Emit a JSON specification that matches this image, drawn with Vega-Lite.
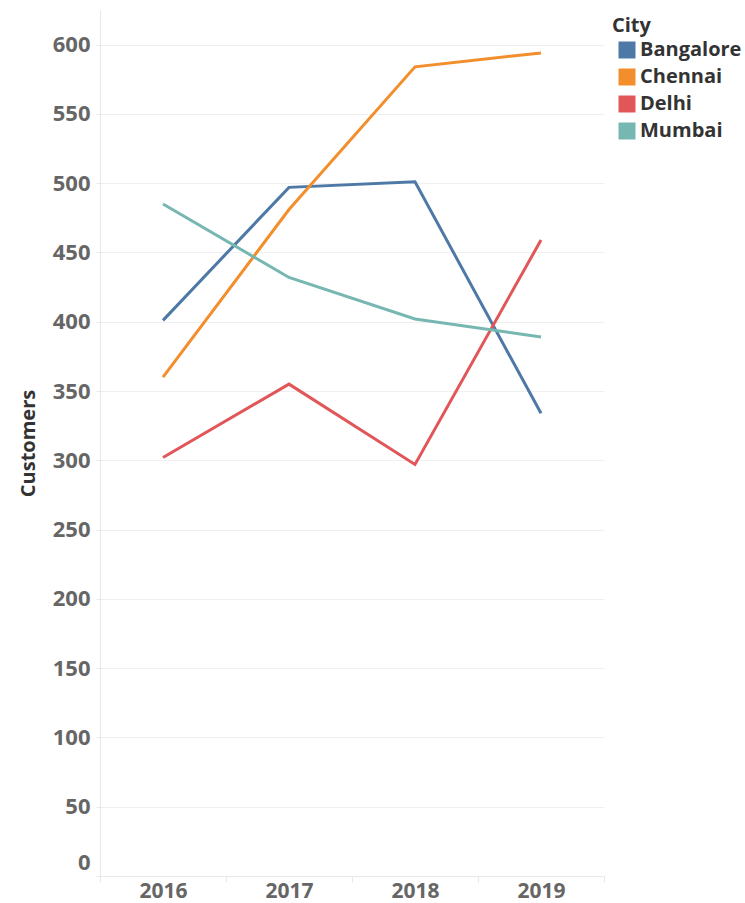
{
  "$schema": "https://vega.github.io/schema/vega-lite/v6.json",
  "autosize": {"type": "none"},
  "padding": {"left": 100, "top": 10, "right": 141, "bottom": 27},
  "width": 504,
  "height": 866,
  "background": "white",
  "config": {
    "font": "Open Sans",
    "view": {"stroke": null},
    "axis": {
      "labelFont": "Open Sans",
      "labelFontWeight": "bold",
      "labelColor": "#666666",
      "labelFontSize": 21,
      "titleFont": "Open Sans",
      "titleFontWeight": "bold",
      "titleColor": "#333333",
      "titleFontSize": 20,
      "gridColor": "#f0f0f0",
      "domainColor": "#e8e8e8",
      "tickColor": "#e8e8e8"
    }
  },
  "data": {
    "values": [
      {"Year": "2016", "City": "Bangalore", "Customers": 401},
      {"Year": "2017", "City": "Bangalore", "Customers": 497},
      {"Year": "2018", "City": "Bangalore", "Customers": 501},
      {"Year": "2019", "City": "Bangalore", "Customers": 334},
      {"Year": "2016", "City": "Chennai", "Customers": 360},
      {"Year": "2017", "City": "Chennai", "Customers": 481},
      {"Year": "2018", "City": "Chennai", "Customers": 584},
      {"Year": "2019", "City": "Chennai", "Customers": 594},
      {"Year": "2016", "City": "Delhi", "Customers": 302},
      {"Year": "2017", "City": "Delhi", "Customers": 355},
      {"Year": "2018", "City": "Delhi", "Customers": 297},
      {"Year": "2019", "City": "Delhi", "Customers": 459},
      {"Year": "2016", "City": "Mumbai", "Customers": 485},
      {"Year": "2017", "City": "Mumbai", "Customers": 432},
      {"Year": "2018", "City": "Mumbai", "Customers": 402},
      {"Year": "2019", "City": "Mumbai", "Customers": 389}
    ]
  },
  "mark": {"type": "line", "strokeWidth": 3},
  "encoding": {
    "x": {
      "field": "Year",
      "type": "ordinal",
      "scale": {"type": "band", "paddingInner": 0, "paddingOuter": 0},
      "axis": {
        "title": null,
        "labelAngle": 0,
        "tickBand": "extent",
        "tickSize": 6,
        "labelPadding": -2,
        "grid": false
      }
    },
    "y": {
      "field": "Customers",
      "type": "quantitative",
      "scale": {"domain": [0, 625], "nice": false, "zero": true},
      "axis": {
        "title": "Customers",
        "values": [0, 50, 100, 150, 200, 250, 300, 350, 400, 450, 500, 550, 600],
        "labelFontSize": 22,
        "tickSize": 4,
        "labelPadding": 6,
        "labelOffset": {"condition": {"test": "datum.value == 0", "value": -14}, "value": 0},
        "titleX": -72,
        "titleY": 433,
        "titleAngle": -90,
        "titleAlign": "center",
        "titleBaseline": "middle"
      }
    },
    "color": {
      "field": "City",
      "type": "nominal",
      "scale": {
        "domain": ["Bangalore", "Chennai", "Delhi", "Mumbai"],
        "range": ["#4e79a7", "#f28e2b", "#e15759", "#76b7b2"]
      },
      "legend": {
        "title": "City",
        "orient": "none",
        "legendX": 512,
        "legendY": 6,
        "padding": 0,
        "symbolType": "square",
        "symbolSize": 289,
        "symbolOffset": 5,
        "labelFont": "Open Sans",
        "labelFontWeight": "bold",
        "labelFontSize": 20,
        "labelColor": "#333333",
        "labelOffset": 3,
        "titleFont": "Open Sans",
        "titleFontWeight": "bold",
        "titleFontSize": 20,
        "titleColor": "#333333",
        "titlePadding": 4,
        "rowPadding": 7,
        "encode": {
          "symbols": {
            "update": {
              "fill": {"scale": "color", "field": "value"},
              "fillOpacity": {"value": 1},
              "strokeWidth": {"value": 0}
            }
          }
        }
      }
    }
  }
}
